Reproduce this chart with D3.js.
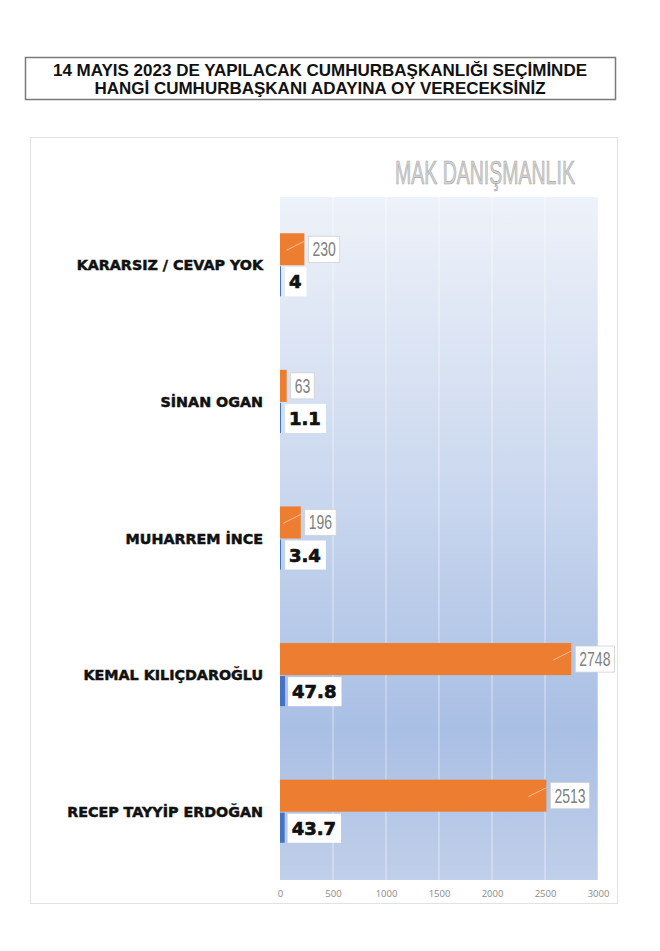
<!DOCTYPE html>
<html>
<head>
<meta charset="utf-8">
<script src="https://cdn.jsdelivr.net/npm/d3@7"></script>
<style>
  body { margin: 0; background: #fff; }
</style>
</head>
<body>
<div id="chart"></div>
<script>
// values
const categories = ['KARARSIZ / CEVAP YOK', 'SİNAN OGAN', 'MUHARREM İNCE', 'KEMAL KILIÇDAROĞLU', 'RECEP TAYYİP ERDOĞAN'];
const counts = [230, 63, 196, 2748, 2513];
const percents = [4, 1.1, 3.4, 47.8, 43.7];
const xTicks = [0, 500, 1000, 1500, 2000, 2500, 3000];
const titleLines = ['14 MAYIS 2023 DE YAPILACAK CUMHURBAŞKANLIĞI SEÇİMİNDE', 'HANGİ CUMHURBAŞKANI ADAYINA OY VERECEKSİNİZ'];
const watermark = 'MAK DANIŞMANLIK';

const width = 660, height = 951;
const plot = { left: 280, right: 598, top: 197, bottom: 880 };
const orange = '#ed7d31', blue = '#4472c4';
const arial = '"Liberation Sans", Arial, sans-serif';
const black = '"DejaVu Sans", sans-serif';
const squeeze = 0.7; // condensed look for the grey count labels

const svg = d3.select('#chart').append('svg')
    .attr('width', width)
    .attr('height', height);

// title box
svg.append('rect')
    .attr('x', 25.5).attr('y', 57.5)
    .attr('width', 590).attr('height', 42)
    .attr('fill', 'white')
    .attr('stroke', '#7a7a7a')
    .attr('stroke-width', 1.5);

svg.selectAll('text.title')
    .data(titleLines)
    .join('text')
    .attr('class', 'title')
    .attr('x', 320)
    .attr('y', (d, i) => 76 + i * 18)
    .attr('text-anchor', 'middle')
    .attr('font-family', arial)
    .attr('font-weight', 'bold')
    .attr('font-size', 17)
    .attr('fill', '#111')
    .text(d => d);

// chart frame
svg.append('rect')
    .attr('x', 30.5).attr('y', 137.5)
    .attr('width', 587).attr('height', 766)
    .attr('fill', 'white')
    .attr('stroke', '#e2e2e2');

// watermark, squeezed to a condensed look
const wm = svg.append('text')
    .attr('font-family', arial)
    .attr('font-size', 33)
    .attr('fill', '#d2d2d2')
    .attr('stroke', '#a5a5a5')
    .attr('stroke-width', 0.7)
    .text(watermark);
const wmScale = 180 / wm.node().getComputedTextLength();
wm.attr('transform', `translate(395,184) scale(${wmScale},1)`);

// plot background gradient
const grad = svg.append('defs').append('linearGradient')
    .attr('id', 'bg')
    .attr('x1', 0).attr('y1', 0).attr('x2', 0).attr('y2', 1);
grad.append('stop').attr('offset', '0%').attr('stop-color', '#eef2f9');
grad.append('stop').attr('offset', '45%').attr('stop-color', '#c8d6ee');
grad.append('stop').attr('offset', '78%').attr('stop-color', '#a9bfe4');
grad.append('stop').attr('offset', '100%').attr('stop-color', '#c0cfea');

const x = d3.scaleLinear()
    .domain([0, 3000])
    .range([plot.left, plot.right]);

const y = d3.scaleBand()
    .domain(categories)
    .range([plot.top, plot.bottom])
    .padding(0);

const sub = d3.scaleBand()
    .domain(['count', 'pct'])
    .range([0, y.bandwidth()])
    .paddingInner(0)
    .paddingOuter(1.13);

svg.append('rect')
    .attr('x', plot.left).attr('y', plot.top)
    .attr('width', plot.right - plot.left)
    .attr('height', plot.bottom - plot.top)
    .attr('fill', 'url(#bg)');

// gridlines
svg.append('g')
    .selectAll('line')
    .data(xTicks.slice(1))
    .join('line')
    .attr('x1', d => x(d)).attr('x2', d => x(d))
    .attr('y1', plot.top).attr('y2', plot.bottom)
    .attr('stroke', 'white')
    .attr('stroke-opacity', 0.55)
    .attr('stroke-width', 1);

// x axis labels
const axis = svg.append('g')
    .attr('transform', `translate(0,${plot.bottom})`)
    .call(d3.axisBottom(x).tickValues(xTicks).tickSize(0).tickPadding(10).tickFormat(d3.format('d')));
axis.select('.domain').remove();
axis.selectAll('text')
    .attr('font-family', '"Open Sans", sans-serif')
    .attr('font-size', 9.5)
    .attr('fill', '#8a8a8a');

const rows = categories.map((c, i) => ({ cat: c, count: counts[i], pct: percents[i] }));

// category labels
svg.append('g')
    .selectAll('text')
    .data(rows)
    .join('text')
    .attr('x', 263)
    .attr('y', d => y(d.cat) + sub('pct') + 5)
    .attr('text-anchor', 'end')
    .attr('font-family', black)
    .attr('font-weight', 'bold')
    .attr('font-size', 14.3)
    .attr('fill', '#111')
    .attr('stroke', '#111')
    .attr('stroke-width', 0.5)
    .text(d => d.cat);

// orange bars
svg.append('g')
    .selectAll('rect')
    .data(rows)
    .join('rect')
    .attr('x', x(0))
    .attr('y', d => y(d.cat) + sub('count'))
    .attr('width', d => x(d.count) - x(0))
    .attr('height', sub.bandwidth())
    .attr('fill', orange);

// blue bars
svg.append('g')
    .selectAll('rect')
    .data(rows)
    .join('rect')
    .attr('x', x(0))
    .attr('y', d => y(d.cat) + sub('pct') + 1)
    .attr('width', d => Math.max(1, x(d.pct) - x(0)))
    .attr('height', sub.bandwidth() - 2)
    .attr('fill', blue);

// leader lines inside orange bars
svg.append('g')
    .selectAll('line')
    .data(rows.filter(d => x(d.count) - x(0) > 14))
    .join('line')
    .attr('x1', d => Math.max(x(0) + 3, x(d.count) - 18))
    .attr('y1', d => y(d.cat) + sub('count') + sub.bandwidth() / 2 + 1)
    .attr('x2', d => x(d.count))
    .attr('y2', d => y(d.cat) + sub('count') + 8)
    .attr('stroke', '#f8cbad')
    .attr('stroke-width', 0.8);

// orange value labels (boxed, condensed grey)
const cLab = svg.append('g')
    .selectAll('g')
    .data(rows)
    .join('g')
    .attr('transform', d => `translate(${x(d.count) + 4},${y(d.cat) + sub('count') + 3})`);
cLab.append('text')
    .attr('transform', `translate(4,20) scale(${squeeze},1)`)
    .attr('font-family', arial)
    .attr('font-size', 20)
    .attr('fill', '#808080')
    .text(d => d.count);
cLab.insert('rect', 'text')
    .attr('width', function () { return this.parentNode.querySelector('text').getComputedTextLength() * squeeze + 8; })
    .attr('height', sub.bandwidth() - 6)
    .attr('fill', 'white')
    .attr('stroke', '#d0d0d0')
    .attr('stroke-width', 0.8);

// blue value labels (boxed, heavy black)
const pLab = svg.append('g')
    .selectAll('g')
    .data(rows)
    .join('g')
    .attr('transform', d => `translate(${Math.max(x(d.pct), x(0) + 2) + 3},${y(d.cat) + sub('pct') + 2})`);
pLab.append('text')
    .attr('x', 4)
    .attr('y', 21)
    .attr('font-family', black)
    .attr('font-weight', 'bold')
    .attr('font-size', 18)
    .attr('fill', '#111')
    .attr('stroke', '#111')
    .attr('stroke-width', 0.7)
    .text(d => d.pct);
pLab.insert('rect', 'text')
    .attr('width', function () { return this.parentNode.querySelector('text').getComputedTextLength() + 9; })
    .attr('height', sub.bandwidth() - 3)
    .attr('fill', 'white');
</script>
</body>
</html>
